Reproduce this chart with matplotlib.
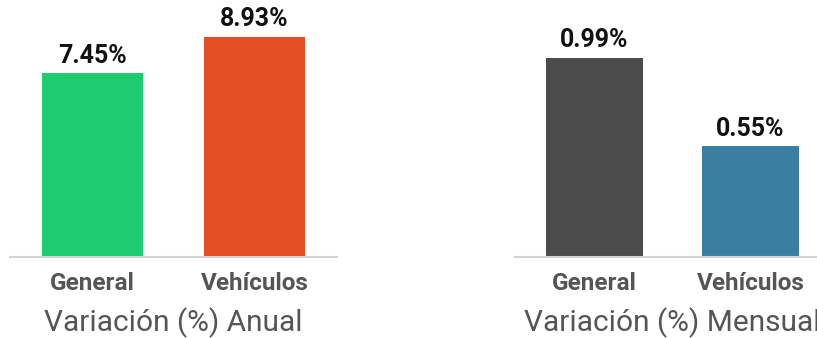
import matplotlib.pyplot as plt

plt.rcParams['font.family'] = ['Roboto', 'DejaVu Sans']

categories = ["General", "Vehículos"]
annual = [7.45, 8.93]
monthly = [0.99, 0.55]
annual_colors = ["#1ccc6f", "#e44f25"]
monthly_colors = ["#4b4b4b", "#3a7ea2"]

fig = plt.figure(figsize=(8.17, 3.38), dpi=100)
W, H = 817, 338

# axes positions in pixels: left, bottom(from top), right, top
ax1 = fig.add_axes([10 / W, (H - 257) / H, 327 / W, 247 / H])
ax2 = fig.add_axes([515 / W, (H - 257) / H, 315 / W, 247 / H])


def draw(ax, vals, colors, title, ymax):
    x = range(len(categories))
    ax.bar(x, vals, width=0.62, color=colors)
    for i, v in enumerate(vals):
        ax.annotate(f"{v:.2f}%", (i, v), xytext=(0, 4), textcoords='offset points',
                    ha='center', va='bottom', fontsize=18, fontweight='bold',
                    color='#111111')
    ax.set_xlim(-0.51, 1.51)
    ax.set_ylim(0, ymax)
    ax.set_xticks(list(x))
    ax.set_xticklabels(categories, fontsize=17.5, fontweight='bold', color='#555555')
    ax.tick_params(axis='x', length=0, pad=11)
    ax.set_yticks([])
    for s in ['top', 'left', 'right']:
        ax.spines[s].set_visible(False)
    ax.spines['bottom'].set_color('#d3d3d3')
    ax.spines['bottom'].set_linewidth(1.5)
    ax.set_xlabel(title, fontsize=21.5, color='#555555', labelpad=9)


draw(ax1, annual, annual_colors, "Variación (%) Anual", 10.02)
draw(ax2, monthly, monthly_colors, "Variación (%) Mensual", 1.229)

fig.savefig("out.png", dpi=100)
